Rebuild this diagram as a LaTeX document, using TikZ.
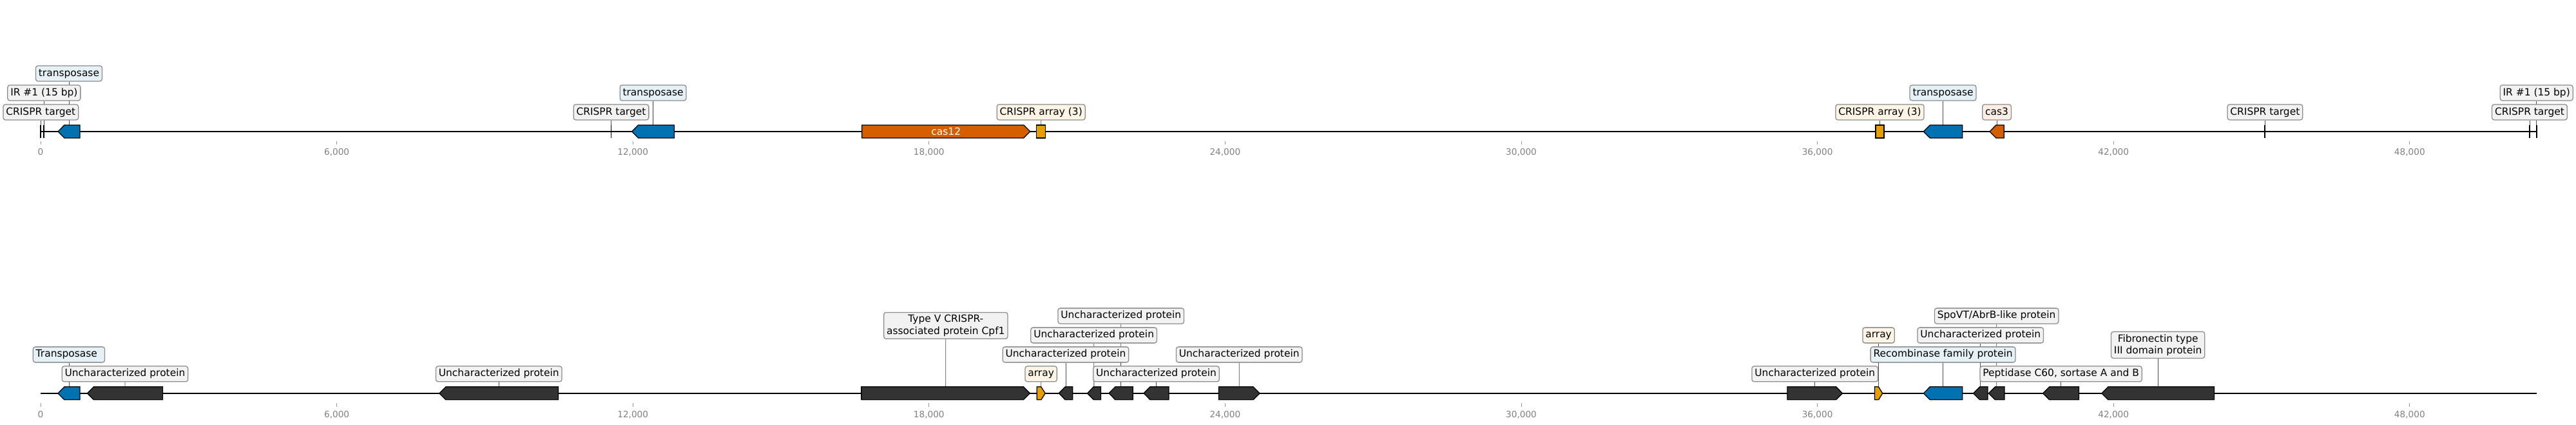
\documentclass[tikz,border=0pt]{standalone}
\usepackage{fontspec}
\setmainfont{DejaVu Sans}
\usetikzlibrary{backgrounds}

\definecolor{tnblue}{HTML}{0072B2}
\definecolor{casorange}{HTML}{D55E00}
\definecolor{arrayyellow}{HTML}{E69F00}
\definecolor{orfgray}{HTML}{333333}

\newcommand{\labfont}{\fontsize{11pt}{13pt}\selectfont}
\newcommand{\tickfont}{\fontsize{9.7pt}{11pt}\selectfont}

\newcommand{\fwdgene}[5]{%
  \pgfmathsetmacro{\hd}{min(0.13,(#4-#3)/2)}%
  \draw[gene, fill=#5] (#3,#2-10) -- ({#4-\hd},#2-10) -- (#4,#2) -- ({#4-\hd},#2+10) -- (#3,#2+10) -- cycle;%
  \coordinate (#1) at ({(#3+#4)/2},#2-10);%
}
\newcommand{\revgene}[5]{%
  \pgfmathsetmacro{\hd}{min(0.13,(#4-#3)/2)}%
  \draw[gene, fill=#5] (#4,#2-10) -- ({#3+\hd},#2-10) -- (#3,#2) -- ({#3+\hd},#2+10) -- (#4,#2+10) -- cycle;%
  \coordinate (#1) at ({(#3+#4)/2},#2-10);%
}
\newcommand{\boxgene}[5]{%
  \draw[gene, fill=#5] (#3,#2-10) rectangle (#4,#2+10);%
  \coordinate (#1) at ({(#3+#4)/2},#2-10);%
}
\newcommand{\sitemark}[3]{%
  \draw[site] (#3,#2-10) -- (#3,#2+10);%
  \coordinate (#1) at (#3,#2-10);%
}

\begin{document}
\begin{tikzpicture}[x=1.915cm, y=-0.025cm,
	backbone/.style={line width=1.4pt},
	gene/.style={draw=black, line width=0.9pt, line join=miter},
	site/.style={line width=1.4pt},
	tick/.style={draw=black!40, line width=0.6pt},
	ticklab/.style={text=black!50, font=\tickfont, anchor=base, inner sep=0pt},
	lab/.style={draw=black!45, line width=0.9pt, rounded corners=2.5pt, fill=black!5, font=\labfont,
		inner xsep=0.11cm, inner ysep=0pt, minimum height=0.6cm, text height=8.5pt, text depth=2.7pt},
	twolines/.style={align=center, text height={}, text depth={}, inner ysep=0.1cm},
	tnlab/.style={lab, fill=tnblue!10},
	arrlab/.style={lab, fill=arrayyellow!10},
	caslab/.style={lab, fill=casorange!10},
	leader/.style={draw=black!70, line width=0.6pt}]
	\useasboundingbox (-0.8225,0) rectangle (51.371,659);

	\foreach \k/\t in {0/0, 6/{6,000}, 12/{12,000}, 18/{18,000}, 24/{24,000}, 30/{30,000}, 36/{36,000}, 42/{42,000}, 48/{48,000}} {
		\draw[tick] (\k,219) -- (\k,224);
		\node[ticklab] (ttop\k) at (\k,241) {\t};
		\draw[tick] (\k,625) -- (\k,631);
		\node[ticklab] (tbot\k) at (\k,648) {\t};
	}

	\coordinate (tstart) at (0,204);
	\coordinate (tend) at (50.57,204);
	\draw[backbone] (tstart) -- (tend);
	\coordinate (bstart) at (0,610);
	\coordinate (bend) at (50.57,610);
	\draw[backbone] (bstart) -- (bend);

	\sitemark{ta}{204}{0.004}
	\sitemark{tb}{204}{0.07}
	\revgene{tc}{204}{0.352}{0.796}{tnblue}
	\sitemark{td}{204}{11.56}
	\revgene{te}{204}{11.98}{12.84}{tnblue}
	\fwdgene{tf}{204}{16.64}{20.05}{casorange}
	\boxgene{tg}{204}{20.18}{20.36}{arrayyellow}
	\boxgene{th}{204}{37.18}{37.35}{arrayyellow}
	\revgene{ti}{204}{38.15}{38.94}{tnblue}
	\revgene{tj}{204}{39.49}{39.78}{casorange}
	\sitemark{tk}{204}{45.07}
	\sitemark{tl}{204}{50.43}
	\sitemark{tm}{204}{50.57}
	\node[font=\labfont, text=white] (cas12) at (18.345,204) {cas12};

	\node[lab] (la) at (0.004,174) {CRISPR target};
	\node[lab] (lb) at (0.07,144) {IR \#1 (15 bp)};
	\node[tnlab] (lc) at (0.574,114) {transposase};
	\node[lab] (ld) at (11.56,174) {CRISPR target};
	\node[tnlab] (le) at (12.41,144) {transposase};
	\node[arrlab] (lg) at (20.27,174) {CRISPR array (3)};
	\node[arrlab] (lh) at (37.265,174) {CRISPR array (3)};
	\node[tnlab] (li) at (38.545,144) {transposase};
	\node[caslab] (lj) at (39.635,174) {cas3};
	\node[lab] (lk) at (45.07,174) {CRISPR target};
	\node[lab] (ll) at (50.43,174) {CRISPR target};
	\node[lab] (lm) at (50.57,144) {IR \#1 (15 bp)};

	\revgene{ba}{610}{0.352}{0.796}{tnblue}
	\revgene{bb}{610}{0.945}{2.474}{orfgray}
	\revgene{bc}{610}{8.08}{10.49}{orfgray}
	\fwdgene{bd}{610}{16.63}{20.045}{orfgray}
	\fwdgene{be}{610}{20.187}{20.356}{arrayyellow}
	\revgene{bf}{610}{20.63}{20.91}{orfgray}
	\revgene{bg}{610}{21.205}{21.48}{orfgray}
	\revgene{bh}{610}{21.645}{22.13}{orfgray}
	\revgene{bi}{610}{22.35}{22.86}{orfgray}
	\fwdgene{bj}{610}{23.87}{24.70}{orfgray}
	\fwdgene{bk}{610}{35.39}{36.51}{orfgray}
	\fwdgene{bl}{610}{37.16}{37.32}{arrayyellow}
	\revgene{bm}{610}{38.15}{38.94}{tnblue}
	\revgene{bn}{610}{39.16}{39.45}{orfgray}
	\revgene{bo}{610}{39.47}{39.79}{orfgray}
	\revgene{bp}{610}{40.57}{41.30}{orfgray}
	\revgene{bq}{610}{41.76}{44.04}{orfgray}

	\node[tnlab] (ma) at (0.574,550) {Transposase\hspace*{0.18cm}};
	\node[lab] (mb) at (1.71,580) {Uncharacterized protein};
	\node[lab] (mc) at (9.285,580) {Uncharacterized protein};
	\node[lab, twolines] (md) at (18.34,505) {Type V CRISPR-\\associated protein Cpf1};
	\node[arrlab] (me) at (20.27,580) {array};
	\node[lab] (mf) at (20.77,550) {Uncharacterized protein};
	\node[lab] (mg) at (21.34,520) {Uncharacterized protein};
	\node[lab] (mh) at (21.89,490) {Uncharacterized protein};
	\node[lab] (mi) at (22.605,580) {Uncharacterized protein};
	\node[lab] (mj) at (24.285,550) {Uncharacterized protein};
	\node[lab] (mk) at (35.95,580) {Uncharacterized protein};
	\node[arrlab] (ml) at (37.24,520) {array};
	\node[tnlab] (mm) at (38.545,550) {Recombinase family protein};
	\node[lab] (mn) at (39.305,520) {Uncharacterized protein};
	\node[lab] (mo) at (39.63,490) {SpoVT/AbrB-like protein};
	\node[lab] (mp) at (40.935,580) {Peptidase C60, sortase A and B};
	\node[lab, twolines] (mq) at (42.9,535) {Fibronectin type\\III domain protein};

	\begin{pgfonlayer}{background}
		\foreach \l/\g in {la/ta, lb/tb, lc/tc, ld/td, le/te, lg/tg, lh/th, li/ti, lj/tj, lk/tk, ll/tl, lm/tm,
			ma/ba, mb/bb, mc/bc, md/bd, me/be, mf/bf, mg/bg, mh/bh, mi/bi, mj/bj, mk/bk, ml/bl, mm/bm,
			mn/bn, mo/bo, mp/bp, mq/bq}
			\draw[leader] (\l) -- (\g);
	\end{pgfonlayer}
\end{tikzpicture}
\end{document}
